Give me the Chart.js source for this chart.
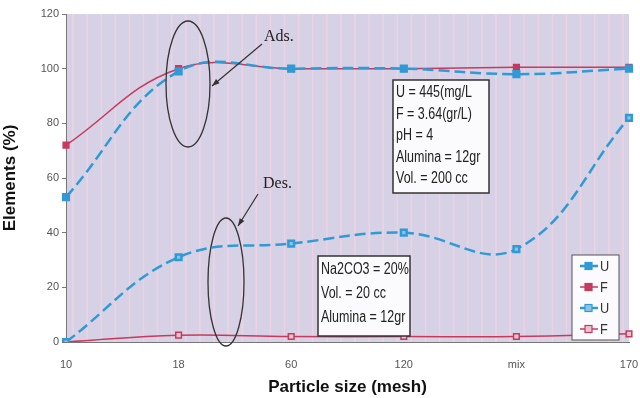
<!DOCTYPE html>
<html>
<head>
<meta charset="utf-8">
<script src="https://cdn.jsdelivr.net/npm/chart.js@4.4.1/dist/chart.umd.min.js"></script>
<style>
  html, body { margin: 0; padding: 0; background: #fff; }
  #wrap { width: 640px; height: 398px; }
</style>
</head>
<body>
<div id="wrap"><canvas id="size_chart"></canvas></div>
<script>
// particle size categories (mesh)
var sizes = ["10", "18", "60", "120", "mix", "170"];

// adsorption (%)
var adsU = [53, 99, 100, 100, 98, 100];
var adsF = [72, 100, 100, 100, 100.5, 100.5];

// desorption (%)
var desU = [0, 31, 36, 40, 34, 82];
var desF = [0, 2.5, 2, 2, 2, 3];

var yTicks = [0, 20, 40, 60, 80, 100, 120];

var blue = '#2f9ad6';
var red = '#c73a5c';
var sans = "'Liberation Sans', Arial, sans-serif";

// background: lavender paper with pink vertical stripes
var paperPlugin = {
    id: 'paper',
    beforeDraw: function(chart) {
        var a = chart.chartArea, c = chart.ctx;
        c.save();
        c.fillStyle = '#d7d1e5';
        c.fillRect(a.left, a.top, a.right - a.left, a.bottom - a.top);
        c.strokeStyle = 'rgba(240,212,228,0.85)';
        c.lineWidth = 1.5;
        for (var x = a.left + 7; x < a.right; x += 14.1) {
            c.beginPath();
            c.moveTo(x, a.top);
            c.lineTo(x, a.bottom);
            c.stroke();
        }
        c.restore();
    }
};

function arrow(c, x1, y1, x2, y2) {
    c.beginPath();
    c.moveTo(x1, y1);
    c.lineTo(x2, y2);
    c.stroke();
    var ang = Math.atan2(y2 - y1, x2 - x1);
    c.beginPath();
    c.moveTo(x2, y2);
    c.lineTo(x2 - 8 * Math.cos(ang - 0.35), y2 - 8 * Math.sin(ang - 0.35));
    c.lineTo(x2 - 8 * Math.cos(ang + 0.35), y2 - 8 * Math.sin(ang + 0.35));
    c.closePath();
    c.fill();
}

// condensed text: squeeze a normal font horizontally
function narrowText(c, t, x, y, size, squeeze) {
    c.save();
    c.translate(x, y);
    c.scale(squeeze, 1);
    c.font = size + "px " + sans;
    c.fillText(t, 0, 0);
    c.restore();
}

function textBox(c, x, y, w, h, lines, lh) {
    c.fillStyle = '#fbfafc';
    c.fillRect(x, y, w, h);
    c.strokeStyle = '#333';
    c.lineWidth = 1.5;
    c.strokeRect(x, y, w, h);
    c.fillStyle = '#222';
    c.textBaseline = 'middle';
    c.textAlign = 'left';
    lines.forEach(function(t, i) {
        narrowText(c, t, x + 3, y + lh / 2 + 2 + i * lh, 16, 0.78);
    });
}

var notesPlugin = {
    id: 'notes',
    afterDatasetsDraw: function(chart) {
        var c = chart.ctx;
        c.save();
        // ellipses
        c.strokeStyle = '#333';
        c.lineWidth = 1.3;
        c.beginPath();
        c.ellipse(188, 84, 22, 63, 0, 0, Math.PI * 2);
        c.stroke();
        c.beginPath();
        c.ellipse(226, 282, 18, 64, 0, 0, Math.PI * 2);
        c.stroke();

        // arrows and labels
        c.fillStyle = '#333';
        c.lineWidth = 1.2;
        arrow(c, 262, 44, 212, 86);
        arrow(c, 258, 194, 238, 226);
        c.fillStyle = '#222';
        c.font = "16px 'Liberation Serif', serif";
        c.textBaseline = 'middle';
        c.fillText('Ads.', 264, 37);
        c.fillText('Des.', 263, 184);

        textBox(c, 393, 80, 96, 113,
            ['U = 445(mg/L', 'F = 3.64(gr/L)', 'pH = 4', 'Alumina = 12gr', 'Vol. = 200 cc'], 21.5);
        textBox(c, 318, 256, 92, 80,
            ['Na2CO3 = 20%', 'Vol. = 20 cc', 'Alumina = 12gr'], 24);

        // legend
        c.fillStyle = '#fbfafc';
        c.fillRect(572, 255, 47, 85);
        c.strokeStyle = '#555';
        c.lineWidth = 1;
        c.strokeRect(572, 255, 47, 85);
        var rowY = [266, 287, 308, 329];
        chart.data.datasets.forEach(function(ds, i) {
            var y = rowY[i];
            c.strokeStyle = ds.borderColor;
            c.lineWidth = ds.borderWidth;
            c.setLineDash([]);
            c.beginPath();
            c.moveTo(580, y);
            c.lineTo(598, y);
            c.stroke();
            c.fillStyle = ds.pointBackgroundColor;
            c.fillRect(585, y - 3.5, 7, 7);
            c.strokeStyle = ds.borderColor;
            c.lineWidth = 1.2;
            c.strokeRect(585, y - 3.5, 7, 7);
            c.fillStyle = '#333';
            c.textAlign = 'left';
            narrowText(c, ds.label, 600, y + 1, 15, 0.85);
        });
        c.restore();
    }
};

var sizeData = {
    labels: sizes,
    datasets: [
        {
            label: "U",
            data: adsU,
            borderColor: blue,
            borderWidth: 2.5,
            borderDash: [11, 5],
            pointStyle: 'rect',
            pointRadius: 4,
            pointBackgroundColor: blue,
            pointBorderColor: blue,
            tension: 0.4
        },
        {
            label: "F",
            data: adsF,
            borderColor: red,
            borderWidth: 1.5,
            pointStyle: 'rect',
            pointRadius: 4,
            pointBackgroundColor: red,
            pointBorderColor: red,
            tension: 0.4
        },
        {
            label: "U",
            data: desU,
            borderColor: blue,
            borderWidth: 2.5,
            borderDash: [11, 5],
            pointStyle: 'rect',
            pointRadius: 4,
            pointBackgroundColor: '#8cc3e6',
            pointBorderColor: blue,
            tension: 0.4
        },
        {
            label: "F",
            data: desF,
            borderColor: red,
            borderWidth: 1.5,
            pointStyle: 'rect',
            pointRadius: 4,
            pointBackgroundColor: '#e6c5d2',
            pointBorderColor: red,
            tension: 0.4
        }
    ]
};

var sizeOptions = {
    responsive: true,
    maintainAspectRatio: false,
    animation: false,
    layout: { padding: { top: 14, right: 11, left: 0, bottom: 0 } },
    plugins: {
        legend: { display: false },
        tooltip: { enabled: false }
    },
    scales: {
        x: {
            offset: false,
            grid: { display: false },
            border: { display: true, color: '#777', width: 1 },
            ticks: { color: '#555', font: { family: sans, size: 11 }, padding: 8, maxRotation: 0 },
            title: {
                display: true,
                text: 'Particle size (mesh)',
                color: '#111',
                font: { family: sans, size: 17, weight: 'bold' },
                padding: { top: 2, bottom: 0 }
            },
            afterFit: function(s) { s.height = 56; s.paddingRight = 0; s.paddingLeft = 0; }
        },
        y: {
            min: 0,
            max: 120,
            afterBuildTicks: function(s) { s.ticks = yTicks.map(function(v) { return { value: v }; }); },
            grid: { drawOnChartArea: false, drawTicks: true, tickLength: 4, color: '#777' },
            border: { display: true, color: '#777', width: 1 },
            ticks: { color: '#555', font: { family: sans, size: 11 }, padding: 3 },
            title: {
                display: true,
                text: 'Elements (%)',
                color: '#111',
                font: { family: sans, size: 17, weight: 'bold' },
                padding: { top: 0, bottom: 10 }
            },
            afterFit: function(s) { s.width = 66; }
        }
    }
};

var ctx = document.getElementById("size_chart").getContext("2d");
new Chart(ctx, { type: 'line', data: sizeData, options: sizeOptions, plugins: [paperPlugin, notesPlugin] });
</script>
</body>
</html>
